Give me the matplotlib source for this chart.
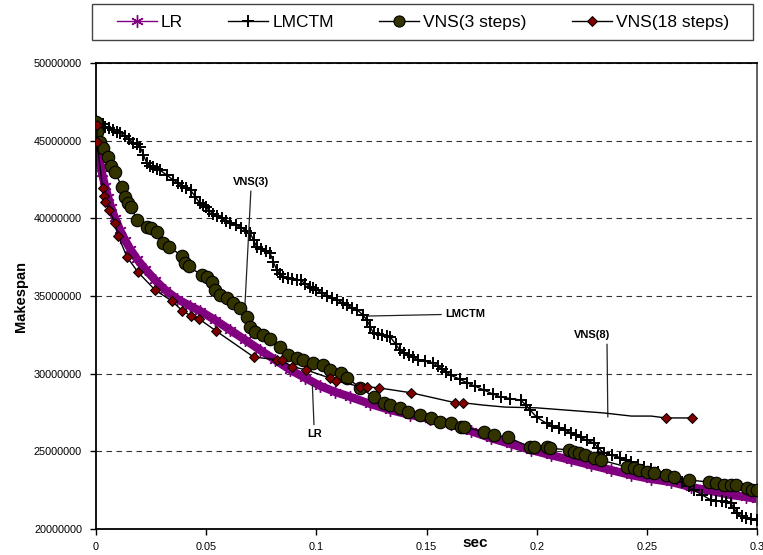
import matplotlib
matplotlib.use('Agg')
import matplotlib.pyplot as plt
from matplotlib.lines import Line2D
from matplotlib.patches import Rectangle
from matplotlib.ticker import FuncFormatter, MultipleLocator
import numpy as np

plt.rcParams['font.family'] = ['Liberation Sans', 'DejaVu Sans']

# LR (sec, makespan in millions)
lr_t = [0.0, 0.0009, 0.0018, 0.0027, 0.0041, 0.0055, 0.0068, 0.0086, 0.0109, 0.0132,
        0.0155, 0.0186, 0.0223, 0.0268, 0.0314, 0.0368, 0.0427, 0.0473, 0.0541, 0.0609,
        0.0677, 0.0745, 0.0814, 0.0882, 0.095, 0.1018, 0.1086, 0.1155, 0.1245, 0.1336,
        0.1427, 0.1518, 0.1609, 0.17, 0.1791, 0.1882, 0.1973, 0.2064, 0.2155, 0.2245,
        0.2336, 0.2427, 0.2518, 0.2609, 0.27, 0.2791, 0.2882, 0.295, 0.3]
lr_m = [45.24, 44.40, 43.63, 42.92, 42.08, 41.37, 40.73, 40.02, 39.25, 38.60,
        38.03, 37.38, 36.74, 36.03, 35.39, 34.81, 34.36, 34.03, 33.45, 32.81,
        32.17, 31.52, 30.88, 30.24, 29.72, 29.21, 28.82, 28.50, 28.05, 27.66,
        27.34, 27.08, 26.76, 26.31, 25.86, 25.47, 25.09, 24.76, 24.44, 24.12,
        23.80, 23.48, 23.22, 23.03, 22.70, 22.45, 22.19, 22.06, 21.93]

# LMCTM
lm_t = [0.0, 0.001, 0.0018, 0.003, 0.004, 0.006, 0.0075, 0.0095, 0.011, 0.013,
        0.015, 0.017, 0.0185, 0.02, 0.0215, 0.023, 0.0245, 0.026, 0.0275, 0.029,
        0.032, 0.035, 0.037, 0.039, 0.041, 0.043, 0.045, 0.047, 0.0485, 0.05,
        0.0515, 0.053, 0.055, 0.057, 0.059, 0.061, 0.0635, 0.066, 0.068, 0.07,
        0.0715, 0.073, 0.075, 0.077, 0.079, 0.0805, 0.082, 0.0835, 0.085, 0.087,
        0.089, 0.091, 0.093, 0.095, 0.097, 0.0985, 0.1, 0.1025, 0.105, 0.107,
        0.1095, 0.112, 0.114, 0.116, 0.1186, 0.121, 0.123, 0.1245, 0.126, 0.128,
        0.13, 0.132, 0.1336, 0.136, 0.138, 0.14, 0.142, 0.144, 0.146, 0.1495,
        0.153, 0.155, 0.157, 0.159, 0.161, 0.165, 0.1686, 0.172, 0.176, 0.18,
        0.1836, 0.188, 0.1927, 0.195, 0.197, 0.2, 0.2045, 0.207, 0.21, 0.213,
        0.2155, 0.218, 0.22, 0.223, 0.226, 0.228, 0.2305, 0.234, 0.238, 0.2405,
        0.243, 0.246, 0.2486, 0.252, 0.255, 0.258, 0.261, 0.2635, 0.266, 0.269,
        0.2714, 0.275, 0.279, 0.2815, 0.284, 0.286, 0.288, 0.2895, 0.291, 0.293,
        0.295, 0.2975, 0.3]
lm_m = [46.3, 46.1, 46.0, 46.05, 45.9, 45.8, 45.7, 45.56, 45.5, 45.3,
        45.1, 44.85, 44.8, 44.6, 44.1, 43.56, 43.4, 43.3, 43.2, 43.1,
        42.8, 42.47, 42.3, 42.1, 41.95, 41.8, 41.4, 41.0, 40.85, 40.7,
        40.5, 40.3, 40.15, 40.0, 39.85, 39.7, 39.55, 39.4, 39.2, 39.05,
        38.6, 38.15, 38.0, 37.9, 37.77, 37.2, 36.67, 36.4, 36.2, 36.15,
        36.1, 36.05, 36.0, 35.8, 35.6, 35.5, 35.4, 35.2, 35.0, 34.85,
        34.74, 34.55, 34.4, 34.25, 34.1, 33.8, 33.45, 33.0, 32.6, 32.55,
        32.5, 32.45, 32.36, 31.9, 31.5, 31.35, 31.2, 31.05, 30.9, 30.8,
        30.7, 30.5, 30.3, 30.1, 29.9, 29.65, 29.4, 29.2, 28.95, 28.7,
        28.5, 28.4, 28.3, 28.0, 27.66, 27.2, 26.8, 26.65, 26.5, 26.35,
        26.2, 26.05, 25.9, 25.7, 25.54, 25.2, 24.9, 24.75, 24.6, 24.45,
        24.3, 24.15, 24.0, 23.85, 23.7, 23.5, 23.35, 23.2, 23.0, 22.75,
        22.5, 22.2, 21.87, 21.83, 21.8, 21.75, 21.67, 21.35, 21.0, 20.85,
        20.7, 20.62, 20.58]

# VNS(3 steps)
v3_t = [0.0, 0.0004, 0.0018, 0.003, 0.0055, 0.007, 0.0086, 0.0118, 0.013, 0.0145,
        0.016, 0.0186, 0.023, 0.025, 0.0277, 0.0305, 0.033, 0.039, 0.0405, 0.042,
        0.048, 0.0505, 0.0527, 0.054, 0.0564, 0.0595, 0.0623, 0.0655, 0.0686, 0.07,
        0.0723, 0.076, 0.079, 0.0836, 0.087, 0.0914, 0.094, 0.0986, 0.103, 0.1064,
        0.111, 0.114, 0.12, 0.126, 0.1305, 0.1336, 0.138, 0.1414, 0.147, 0.152,
        0.156, 0.161, 0.1655, 0.167, 0.176, 0.1805, 0.187, 0.197, 0.1986, 0.2045,
        0.206, 0.2145, 0.2168, 0.219, 0.222, 0.226, 0.229, 0.241, 0.244, 0.2464,
        0.25, 0.2532, 0.2586, 0.2623, 0.269, 0.278, 0.2814, 0.285, 0.288, 0.2905,
        0.2955, 0.2977, 0.3]
v3_m = [46.2, 45.56, 44.9, 44.5, 43.95, 43.4, 43.0, 42.0, 41.37, 41.0,
        40.7, 39.9, 39.44, 39.38, 39.1, 38.4, 38.15, 37.6, 37.1, 36.9,
        36.35, 36.2, 35.9, 35.4, 35.06, 34.87, 34.55, 34.2, 33.65, 33.0,
        32.7, 32.5, 32.2, 31.7, 31.2, 31.0, 30.9, 30.7, 30.56, 30.24,
        30.04, 29.7, 29.1, 28.5, 28.1, 27.98, 27.8, 27.53, 27.34, 27.15,
        26.9, 26.8, 26.57, 26.57, 26.25, 26.05, 25.9, 25.28, 25.28, 25.28,
        25.2, 25.09, 24.96, 24.9, 24.77, 24.57, 24.44, 24.0, 23.93, 23.8,
        23.67, 23.6, 23.48, 23.35, 23.15, 23.03, 22.96, 22.83, 22.83, 22.83,
        22.64, 22.5, 22.5]

# VNS(18 steps), points 29-34 carry no marker
v18_t = [0.0003, 0.0005, 0.003, 0.0036, 0.0043, 0.006, 0.0086, 0.0101, 0.014, 0.019,
         0.0268, 0.0344, 0.0392, 0.043, 0.0468, 0.0545, 0.0716, 0.082, 0.0844, 0.089,
         0.0955, 0.106, 0.109, 0.12, 0.123, 0.1286, 0.143, 0.163, 0.1664, 0.1755,
         0.1855, 0.2, 0.2305, 0.243, 0.252, 0.2586, 0.2705]
v18_m = [46.0, 44.9, 41.95, 41.44, 41.05, 40.54, 39.7, 38.86, 37.53, 36.54,
         35.39, 34.68, 34.05, 33.73, 33.52, 32.75, 31.07, 30.9, 30.85, 30.45,
         30.24, 29.72, 29.53, 29.16, 29.16, 29.08, 28.77, 28.13, 28.13, 27.98,
         27.85, 27.8, 27.47, 27.27, 27.27, 27.15, 27.15]
v18_nomark = [29, 30, 31, 32, 33, 34]

purple = '#800080'
olive = '#333300'
dred = '#800000'
asterisk = (6, 2, 0)

fig = plt.figure(figsize=(7.63, 5.55), dpi=100)
ax = fig.add_axes([96 / 763, 1 - 529 / 555, (757 - 96) / 763, (529 - 63) / 555])

M = 1e6
ax.plot(lr_t, np.array(lr_m) * M, color=purple, lw=6, solid_capstyle='butt', zorder=2)
ax.plot(lr_t, np.array(lr_m) * M, color=purple, lw=1, marker=asterisk, ms=9, mew=1, zorder=2)
ax.plot(lm_t, np.array(lm_m) * M, color='black', lw=1, marker='+', ms=9, mew=1.4, zorder=3)
ax.plot(v3_t, np.array(v3_m) * M, color='black', lw=1, marker='o', ms=9,
        mfc=olive, mec='black', mew=0.8, zorder=4)
marked = [i for i in range(len(v18_t)) if i not in v18_nomark]
ax.plot(v18_t, np.array(v18_m) * M, color='black', lw=1, marker='D', ms=5,
        mfc=dred, mec='black', mew=0.7, markevery=marked, zorder=5)

ax.set_xlim(0, 0.3)
ax.set_ylim(20e6, 50e6)
ax.xaxis.set_major_locator(MultipleLocator(0.05))
ax.yaxis.set_major_locator(MultipleLocator(5e6))
ax.xaxis.set_major_formatter(FuncFormatter(lambda v, p: '%g' % round(v, 3)))
ax.yaxis.set_major_formatter(FuncFormatter(lambda v, p: '%d' % v))
ax.tick_params(direction='out', length=4, width=1, labelsize=7.8)
ax.tick_params(axis='x', pad=5)
ax.tick_params(axis='y', pad=6)
ax.yaxis.grid(True, linestyle=(0, (5, 4)), color='#333333', lw=0.8)
ax.set_axisbelow(True)
for s in ax.spines.values():
    s.set_linewidth(1.3)
ax.spines['right'].set_color('#555555')

ax.set_ylabel('Makespan', fontsize=10.5, fontweight='bold', labelpad=4)
ax.text(0.573, -0.03, 'sec', transform=ax.transAxes, fontsize=11, fontweight='bold',
        ha='center', va='center')

ap = dict(arrowstyle='-', color='#222222', lw=0.9, shrinkA=1, shrinkB=0)
ax.annotate('VNS(3)', xy=(0.0673, 33.6e6), xytext=(0.0705, 42.35e6), fontsize=8,
            fontweight='bold', ha='center', va='center', arrowprops=ap)
ax.annotate('LMCTM', xy=(0.1236, 33.71e6), xytext=(0.1586, 33.84e6), fontsize=8,
            fontweight='bold', ha='left', va='center', arrowprops=ap)
ax.annotate('LR', xy=(0.0982, 29.27e6), xytext=(0.0991, 26.12e6), fontsize=8,
            fontweight='bold', ha='center', va='center', arrowprops=ap)
ax.annotate('VNS(8)', xy=(0.2323, 27.21e6), xytext=(0.225, 32.49e6), fontsize=8,
            fontweight='bold', ha='center', va='center',
            arrowprops=dict(ap, relpos=(0.92, 0)))

# legend: box drawn separately so it can be wider than its content
fig.patches.append(Rectangle((92 / 763, 1 - 40 / 555), 661 / 763, 36 / 555,
                             transform=fig.transFigure, fill=False,
                             edgecolor='#444444', lw=1))
handles = [
    Line2D([], [], color=purple, lw=1, marker=asterisk, ms=9, mew=1),
    Line2D([], [], color='black', lw=1, marker='+', ms=9, mew=1.4),
    Line2D([], [], color='black', lw=1, marker='o', ms=8, mfc=olive, mec='black', mew=0.8),
    Line2D([], [], color='black', lw=1, marker='D', ms=5, mfc=dred, mec='black', mew=0.7),
]
labels = ['LR', 'LMCTM', 'VNS(3 steps)', 'VNS(18 steps)']
fig.legend(handles, labels, loc='center', bbox_to_anchor=(423 / 763, 1 - 22 / 555),
           ncol=4, fontsize=12.5, handlelength=2.3, handletextpad=0.25,
           columnspacing=2.6, frameon=False)

fig.savefig('out.png', dpi=100)
